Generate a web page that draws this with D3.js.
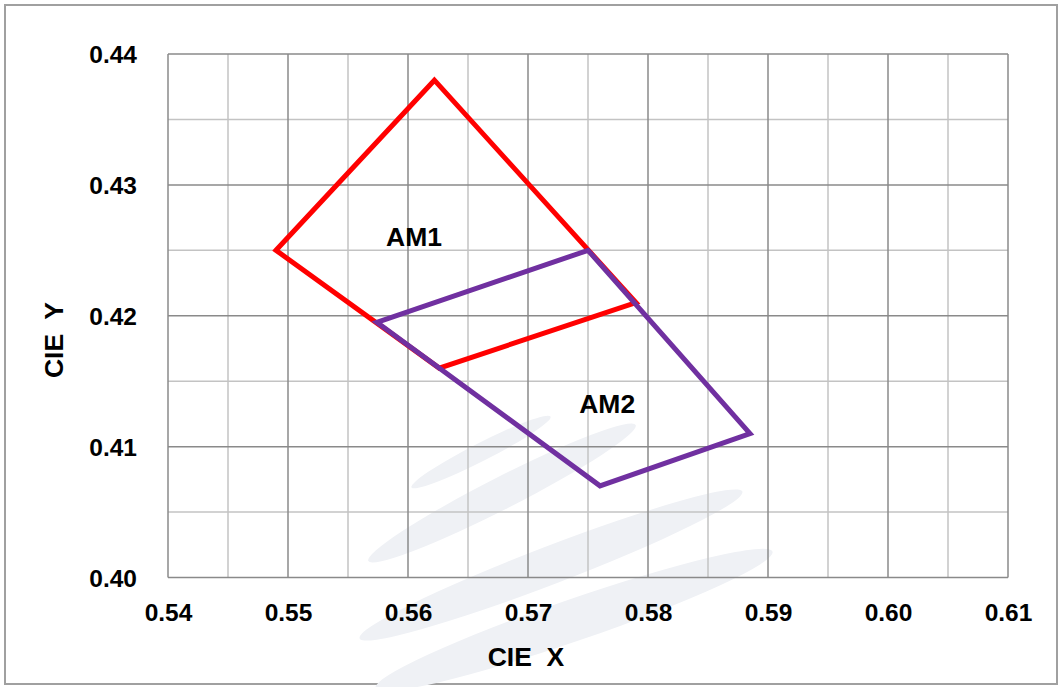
<!DOCTYPE html>
<html>
<head>
<meta charset="utf-8">
<script src="https://cdn.jsdelivr.net/npm/d3@7/dist/d3.min.js"></script>
<style>
  html, body { margin: 0; padding: 0; background: #fff; }
  svg { display: block; }
  text { font-family: "Liberation Sans", Arial, sans-serif; font-weight: bold; fill: #000; }
</style>
</head>
<body>
<script>
// ---- data ----
const xTicks = [0.54, 0.55, 0.56, 0.57, 0.58, 0.59, 0.60, 0.61];
const yTicks = [0.40, 0.41, 0.42, 0.43, 0.44];
const xGrid = [0.545, 0.555, 0.565, 0.575, 0.585, 0.595, 0.605];
const yGrid = [0.405, 0.415, 0.425, 0.435];

const am1X = [0.549, 0.5622, 0.5790, 0.5626, 0.549];
const am1Y = [0.4250, 0.4380, 0.4210, 0.4160, 0.4250];
const am2X = [0.5574, 0.5750, 0.5885, 0.5760, 0.5574];
const am2Y = [0.4195, 0.4250, 0.4110, 0.4070, 0.4195];

const seriesNames = ["AM1", "AM2"];
const labelX = [0.5605, 0.5766];
const labelY = [0.4253, 0.4126];

const xTitle = "CIE  X";
const yTitle = "CIE  Y";

// ---- layout ----
const W = 1060, H = 687;
const svg = d3.select("body").append("svg").attr("width", W).attr("height", H);

const x = d3.scaleLinear().domain([0.54, 0.61]).range([168, 1008]);
const y = d3.scaleLinear().domain([0.40, 0.44]).range([577.5, 54]);

// outer frame
svg.append("rect").attr("x", 5).attr("y", 5).attr("width", 1052).attr("height", 679)
  .attr("fill", "#fff").attr("stroke", "#a0a0a0").attr("stroke-width", 2);

// faint watermark swooshes (decorative)
const wm = svg.append("g").attr("fill", "#eff1f5");
[[481, 452, 78, 9, -27], [502, 493, 150, 16, -27], [551, 565, 205, 19, -21], [574, 620, 210, 21, -19]]
  .forEach(e => {
    wm.append("ellipse").attr("cx", e[0]).attr("cy", e[1]).attr("rx", e[2]).attr("ry", e[3])
      .attr("transform", `rotate(${e[4]},${e[0]},${e[1]})`);
  });

// grid: minor
const g = svg.append("g");
g.selectAll("line.vmin").data(xGrid).enter().append("line")
  .attr("x1", d => x(d)).attr("x2", d => x(d)).attr("y1", y(0.44)).attr("y2", y(0.40))
  .attr("stroke", "#c3c3c3").attr("stroke-width", 1.5);
g.selectAll("line.hmin").data(yGrid).enter().append("line")
  .attr("x1", x(0.54)).attr("x2", x(0.61)).attr("y1", d => y(d)).attr("y2", d => y(d))
  .attr("stroke", "#c3c3c3").attr("stroke-width", 1.5);
// grid: major
g.selectAll("line.vmaj").data(xTicks).enter().append("line")
  .attr("x1", d => x(d)).attr("x2", d => x(d)).attr("y1", y(0.44)).attr("y2", y(0.40))
  .attr("stroke", "#8a8a8a").attr("stroke-width", 1.5);
g.selectAll("line.hmaj").data(yTicks).enter().append("line")
  .attr("x1", x(0.54)).attr("x2", x(0.61)).attr("y1", d => y(d)).attr("y2", d => y(d))
  .attr("stroke", "#8a8a8a").attr("stroke-width", 1.5);

// axes labels via d3 axes
const fmt = d3.format(".2f");
const xAxis = svg.append("g").attr("transform", `translate(0,${y(0.40)})`)
  .call(d3.axisBottom(x).tickValues(xTicks).tickFormat(fmt).tickSize(0).tickPadding(0));
xAxis.select(".domain").remove();
xAxis.selectAll("text").attr("dy", null).attr("y", 43).attr("font-size", 24.5)
  .style("font-family", '"Liberation Sans", Arial, sans-serif').style("font-weight", "bold").attr("fill", "#000");

const yAxis = svg.append("g").attr("transform", `translate(137,0)`)
  .call(d3.axisLeft(y).tickValues(yTicks).tickFormat(fmt).tickSize(0).tickPadding(0));
yAxis.select(".domain").remove();
yAxis.selectAll("text").attr("dy", null).attr("x", 0).attr("y", 8.5).attr("font-size", 24.5)
  .style("font-family", '"Liberation Sans", Arial, sans-serif').style("font-weight", "bold").attr("fill", "#000");

// polygons
const line = d3.line().x(d => x(d[0])).y(d => y(d[1]));
const am1 = am1X.map((v, i) => [v, am1Y[i]]);
const am2 = am2X.map((v, i) => [v, am2Y[i]]);
svg.append("path").attr("d", line(am1) + "Z").attr("fill", "none")
  .attr("stroke", "#ff0000").attr("stroke-width", 5).attr("stroke-linejoin", "miter");
svg.append("path").attr("d", line(am2) + "Z").attr("fill", "none")
  .attr("stroke", "#7030a0").attr("stroke-width", 5).attr("stroke-linejoin", "miter");

// series labels
svg.selectAll("text.lbl").data(seriesNames).enter().append("text")
  .attr("class", "lbl")
  .attr("x", (d, i) => x(labelX[i])).attr("y", (d, i) => y(labelY[i]))
  .attr("text-anchor", "middle").attr("font-size", 26.5).text(d => d);

// axis titles
svg.append("text").attr("x", 526).attr("y", 666).attr("text-anchor", "middle")
  .attr("font-size", 26.5).style("white-space", "pre").attr("xml:space", "preserve").text(xTitle);
svg.append("text").attr("transform", "translate(63,340) rotate(-90)").attr("text-anchor", "middle")
  .attr("font-size", 26.5).style("white-space", "pre").attr("xml:space", "preserve").text(yTitle);
</script>
</body>
</html>
